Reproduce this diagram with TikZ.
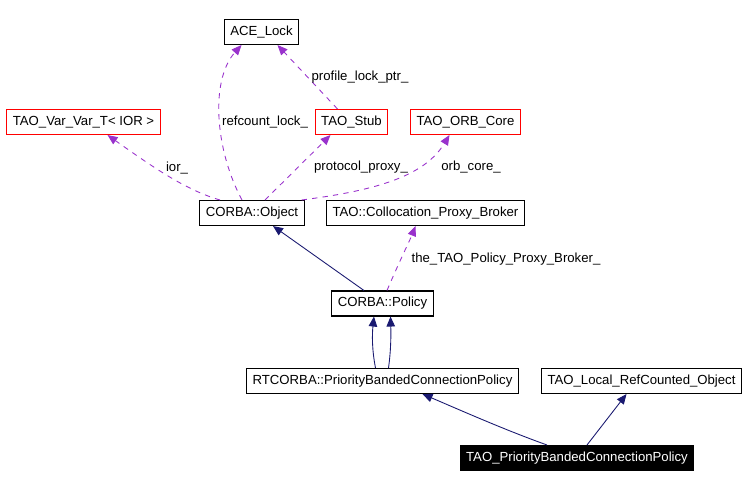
\documentclass[tikz,border=0pt]{standalone}
\usepackage{fontspec}
\setmainfont{Liberation Sans}
\usetikzlibrary{arrows.meta,calc}
\definecolor{navy}{RGB}{25,25,112}
\definecolor{orchid}{RGB}{153,50,204}
\begin{document}
\begin{tikzpicture}[x=0.02cm,y=-0.02cm,font=\fontsize{7.5}{9}\selectfont,
    cls/.style={draw,line width=0.6pt,inner xsep=0.12cm,inner ysep=0pt,minimum height=0.5cm},
    ext/.style={cls,draw=red},
    inh/.style={navy,line width=0.5pt,-{Triangle[length=0.2cm,width=0.17cm]}},
    use/.style={orchid,line width=0.5pt,dash pattern=on 3pt off 3pt,-{Triangle[length=0.2cm,width=0.17cm]}},
    lbl/.style={inner sep=0pt}]
    \useasboundingbox (0,0) rectangle (750,488);
    % classes
    \node[cls] (ace) at (261.5,32) {ACE\_Lock};
    \node[ext] (var) at (83.5,122) {TAO\_Var\_Var\_T< IOR >};
    \node[ext] (stub) at (351.5,122) {TAO\_Stub};
    \node[ext] (orb) at (465.5,122) {TAO\_ORB\_Core};
    \node[cls] (obj) at (252,213) {CORBA::Object};
    \node[cls] (broker) at (425.5,213) {TAO::Collocation\_Proxy\_Broker};
    \node[cls] (policy) at (382.5,303.5) {CORBA::Policy};
    \node[cls] (rt) at (382.5,381) {RTCORBA::PriorityBandedConnectionPolicy};
    \node[cls] (local) at (641.5,381) {TAO\_Local\_RefCounted\_Object};
    \node[cls,fill=black,text=white] (pbcp) at (577,458) {TAO\_PriorityBandedConnectionPolicy};
    % usage
    \draw[use] ($(obj.north)+(-32,0)$) .. controls (185,190) and (150,165) .. ($(var.south)+(24,0)$);
    \draw[use] ($(obj.north)+(-10,0)$) .. controls (215,150) and (210,80) .. ($(ace.south)+(-20,0)$);
    \draw[use] ($(obj.north)+(13,0)$) -- ($(stub.south)+(-21,0)$);
    \draw[use] ($(stub.north)+(-14,0)$) -- ($(ace.south)+(16,0)$);
    \draw[use] ($(obj.north east)+(-3,0)$) .. controls (380,190) and (425,175) .. ($(orb.south)+(-16,0)$);
    \draw[use] ($(policy.north)+(4.5,0)$) .. controls (400,260) and (410,240) .. ($(broker.south)+(-10,0)$);
    \node[lbl] (l1) at (177,168) {ior\_};
    \node[lbl] (l2) at (265,122) {refcount\_lock\_};
    \node[lbl] (l3) at (360,77) {profile\_lock\_ptr\_};
    \node[lbl] (l4) at (361,167) {protocol\_proxy\_};
    \node[lbl] (l5) at (471,167) {orb\_core\_};
    \node[lbl] (l6) at (506,259) {the\_TAO\_Policy\_Proxy\_Broker\_};
    % inheritance
    \draw[inh] ($(policy.north)+(-18.5,0)$) -- ($(obj.south)+(21,0)$);
    \draw[inh] ($(rt.north)+(-7,0)$) .. controls (372,350) and (372,335) .. ($(policy.south)+(-8.5,0)$);
    \draw[inh] ($(rt.north)+(6,0)$) .. controls (391,350) and (391,335) .. ($(policy.south)+(8,0)$);
    \draw[inh] ($(pbcp.north)+(-30,0)$) .. controls (505,430) and (460,410) .. ($(rt.south)+(40,0)$);
    \draw[inh] ($(pbcp.north)+(10,0)$) -- ($(local.south)+(-15,0)$);
\end{tikzpicture}
\end{document}
